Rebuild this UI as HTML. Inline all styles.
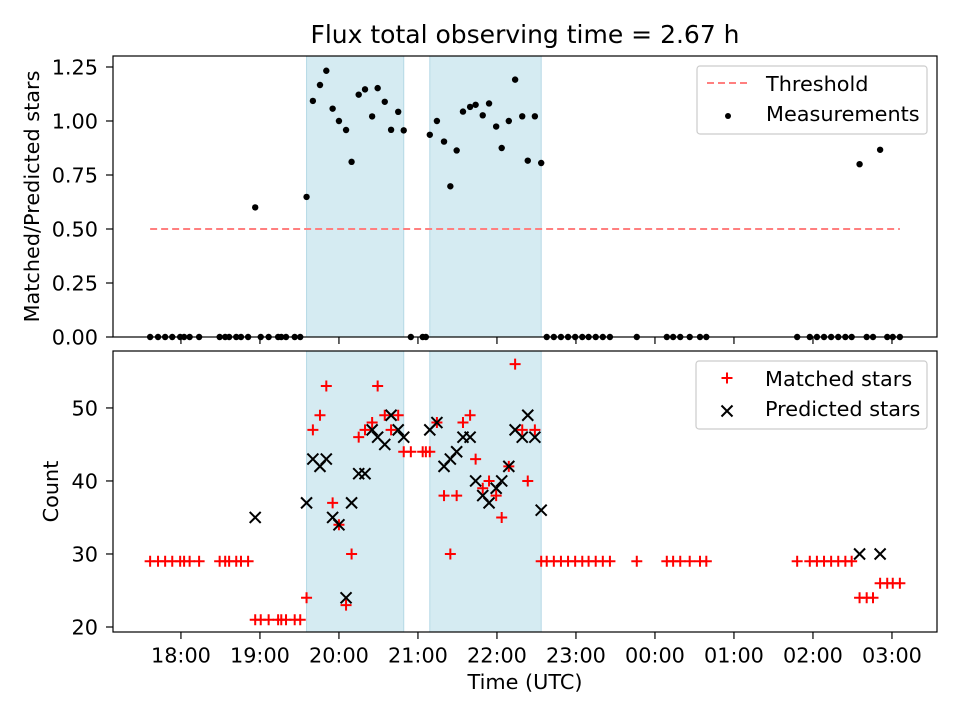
<!DOCTYPE html>
<html><head><meta charset="utf-8"><style>
body{margin:0;background:#fff}
svg{font-family:"DejaVu Sans","Liberation Sans",sans-serif}
</style></head><body>
<svg id="c" width="960" height="720"></svg>
<script>
const times=[17.61,17.71,17.80,17.89,17.99,18.04,18.11,18.23,18.49,18.56,18.61,18.70,18.76,18.85,18.94,19.01,19.11,19.23,19.27,19.33,19.44,19.51,19.59,19.67,19.76,19.84,19.92,20.00,20.09,20.16,20.25,20.33,20.42,20.49,20.58,20.66,20.75,20.82,20.91,21.06,21.10,21.15,21.24,21.33,21.41,21.49,21.57,21.66,21.73,21.82,21.90,21.99,22.06,22.15,22.23,22.32,22.39,22.48,22.56,22.63,22.72,22.81,22.90,22.99,23.08,23.16,23.25,23.34,23.43,23.77,24.15,24.23,24.32,24.44,24.57,24.65,25.80,25.96,26.05,26.14,26.23,26.32,26.41,26.49,26.59,26.68,26.76,26.85,26.94,27.01,27.10];
const matched=[29,29,29,29,29,29,29,29,29,29,29,29,29,29,21,21,21,21,21,21,21,21,24,47,49,53,37,34,23,30,46,47,48,53,49,47,49,44,44,44,44,44,48,38,30,38,48,49,43,39,40,38,35,42,56,47,40,47,29,29,29,29,29,29,29,29,29,29,29,29,29,29,29,29,29,29,29,29,29,29,29,29,29,29,24,24,24,26,26,26,26];
const predicted=[null,null,null,null,null,null,null,null,null,null,null,null,null,null,35,null,null,null,null,null,null,null,37,43,42,43,35,34,24,37,41,41,47,46,45,49,47,46,null,null,null,47,48,42,43,44,46,46,40,38,37,39,40,42,47,46,49,46,36,null,null,null,null,null,null,null,null,null,null,null,null,null,null,null,null,null,null,null,null,null,null,null,null,null,30,null,null,30,null,null,null];
const spans=[[19.59,20.82],[21.15,22.56]];
const threshold=0.5, thrRange=[17.61,27.10];
const xTicks=[18,19,20,21,22,23,24,25,26,27];
const xLabels=["18:00","19:00","20:00","21:00","22:00","23:00","00:00","01:00","02:00","03:00"];
const topTicks=[0,0.25,0.5,0.75,1.0,1.25];
const botTicks=[20,30,40,50];

const svg=document.getElementById('c');const NS='http://www.w3.org/2000/svg';
function el(t,a,p){const e=document.createElementNS(NS,t);for(const k in a)e.setAttribute(k,a[k]);(p||svg).appendChild(e);return e;}
const L=113,R=937,T1=56,B1=337,T2=351,B2=632;
const FS=20.8;
const xd=[17.14,27.57];
const X=t=>L+(t-xd[0])/(xd[1]-xd[0])*(R-L);
const Y1=v=>B1-(v-0)/(1.3009-0)*(B1-T1);
const Y2=v=>B2-(v-19.315)/(57.8-19.315)*(B2-T2);

function axes(T,B,Y,ticks,fmt,ylabel,nm,lx){
  const g=el('g',{});
  
  
  spans.forEach((s,i)=>{const r=el('rect',{x:X(s[0]),y:T,width:X(s[1])-X(s[0]),height:B-T,fill:'#d5ebf2',stroke:'#b5d9e6','stroke-width':1},g);
    
    });
  ticks.forEach(v=>{const y=Y(v);el('line',{x1:L-7,x2:L,y1:y,y2:y,stroke:'#000','stroke-width':1.2},g);
    const t=el('text',{x:L-15,y:y+7.5,'text-anchor':'end','font-size':FS},g);t.textContent=fmt(v);
    
    });
  xTicks.forEach(v=>el('line',{x1:X(v),x2:X(v),y1:B,y2:B+7,stroke:'#000','stroke-width':1.2},g));
  const yl=el('text',{transform:`translate(${lx},${(T+B)/2}) rotate(-90)`,'text-anchor':'middle','font-size':FS},g);yl.textContent=ylabel;
  
  
  return g;
}
axes(T1,B1,Y1,topTicks,v=>v.toFixed(2),'Matched/Predicted stars','top-axes',39);
axes(T2,B2,Y2,botTicks,v=>String(v),'Count','bottom-axes',58);

const th=el('line',{x1:X(thrRange[0]),x2:X(thrRange[1]),y1:Y1(threshold),y2:Y1(threshold),stroke:'#ff7f7f','stroke-width':2,'stroke-dasharray':'7,4'});


times.forEach((t,i)=>{const r=predicted[i]?matched[i]/predicted[i]:0;
  const c=el('circle',{cx:X(t),cy:Y1(r),r:3.2,fill:'#000'});
  
  });
times.forEach((t,i)=>{const x=X(t),y=Y2(matched[i]);
  const p=el('path',{d:`M${x-5.5},${y}H${x+5.5}M${x},${y-5.5}V${y+5.5}`,stroke:'#f00','stroke-width':2});
  
  });
times.forEach((t,i)=>{if(predicted[i]==null)return;const x=X(t),y=Y2(predicted[i]),s=5.5;
  const p=el('path',{d:`M${x-s},${y-s}L${x+s},${y+s}M${x-s},${y+s}L${x+s},${y-s}`,stroke:'#000','stroke-width':2});
  
  });
[[T1,B1],[T2,B2]].forEach(([T,B])=>el('rect',{x:L,y:T,width:R-L,height:B-T,fill:'none',stroke:'#000','stroke-width':1.2}));
xTicks.forEach((v,i)=>{const t=el('text',{x:X(v),y:B2+30.5,'text-anchor':'middle','font-size':FS});t.textContent=xLabels[i];
  
  });
const xt=el('text',{x:(L+R)/2,y:689,'text-anchor':'middle','font-size':FS});xt.textContent='Time (UTC)';


const ti=el('text',{x:(L+R)/2,y:43,'text-anchor':'middle','font-size':25});ti.textContent='Flux total observing time = 2.67 h';


function legend(x,y,w,items,nm){const g=el('g',{});
  
  
  el('rect',{x,y,width:w,height:68,rx:3,fill:'#fff','fill-opacity':0.85,stroke:'#ccc','stroke-width':1.2},g);
  items.forEach((it,i)=>{const ty=y+25+i*30,cx=x+31;it.draw(g,cx,y+17+i*33);
    const t=el('text',{x:x+69,y:ty,'font-size':FS},g);t.textContent=it.label;
    
    });}
legend(697,66,230,[{label:'Threshold',draw:(g,cx,cy)=>el('line',{x1:cx-21,x2:cx+21,y1:cy,y2:cy,stroke:'#ff7f7f','stroke-width':2,'stroke-dasharray':'7,4'},g)},
  {label:'Measurements',draw:(g,cx,cy)=>el('circle',{cx,cy,r:3,fill:'#000'},g)}],'top-legend');
legend(696,361,231,[{label:'Matched stars',draw:(g,cx,cy)=>el('path',{d:`M${cx-5.5},${cy}H${cx+5.5}M${cx},${cy-5.5}V${cy+5.5}`,stroke:'#f00','stroke-width':2},g)},
  {label:'Predicted stars',draw:(g,cx,cy)=>el('path',{d:`M${cx-5.5},${cy-5.5}L${cx+5.5},${cy+5.5}M${cx-5.5},${cy+5.5}L${cx+5.5},${cy-5.5}`,stroke:'#000','stroke-width':2},g)}],'bottom-legend');
</script>
</body></html>
